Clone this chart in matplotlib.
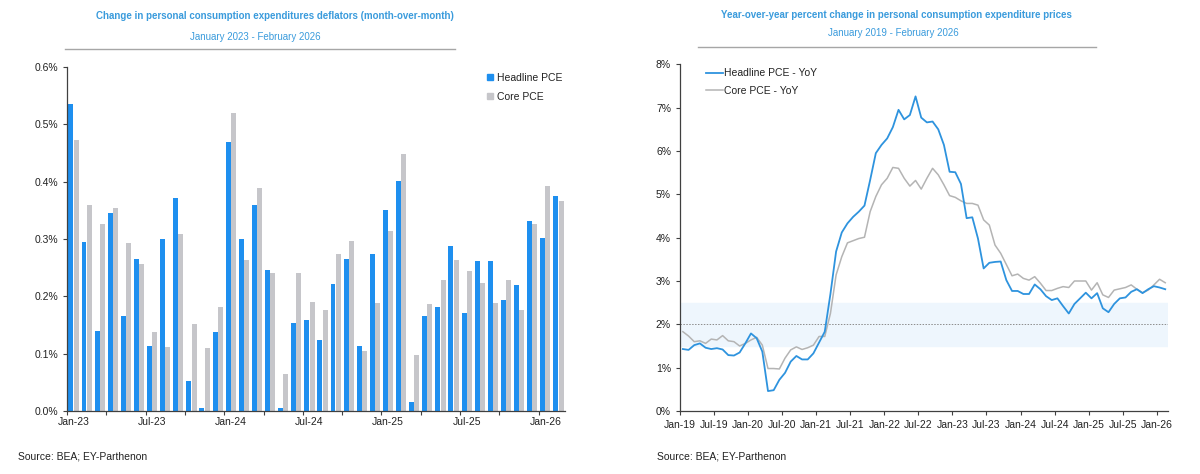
"""
pce_charts.py
-------------
Two-panel PCE chart: monthly change in deflators (bars) and
year-over-year PCE inflation (lines). Saves out.png
"""

import numpy as np
import matplotlib
matplotlib.use('Agg')
import matplotlib.pyplot as plt
from matplotlib.patches import Patch
from matplotlib.lines import Line2D
from matplotlib.ticker import FuncFormatter

plt.rcParams['font.family'] = ['Liberation Sans', 'DejaVu Sans']

# ---- month-over-month, Jan-23 .. Feb-26 (percent) ----
mom_labels = ['Jan-23', 'Jul-23', 'Jan-24', 'Jul-24', 'Jan-25', 'Jul-25', 'Jan-26']
headline_mom = [0.536, 0.294, 0.140, 0.346, 0.165, 0.265, 0.113, 0.300, 0.372, 0.053, 0.006, 0.137,
                0.469, 0.300, 0.359, 0.246, 0.005, 0.154, 0.159, 0.123, 0.222, 0.265, 0.114, 0.274,
                0.350, 0.402, 0.015, 0.165, 0.182, 0.288, 0.171, 0.262, 0.261, 0.193, 0.219, 0.331,
                0.302, 0.375]
core_mom = [0.473, 0.360, 0.327, 0.354, 0.293, 0.257, 0.138, 0.111, 0.308, 0.151, 0.110, 0.181,
            0.519, 0.264, 0.389, 0.241, 0.064, 0.240, 0.190, 0.176, 0.274, 0.296, 0.104, 0.189,
            0.314, 0.448, 0.097, 0.187, 0.229, 0.264, 0.245, 0.224, 0.189, 0.228, 0.177, 0.327,
            0.392, 0.367]

# ---- year-over-year, Jan-19 .. Feb-26 (percent) ----
yoy_labels = ['Jan-19', 'Jul-19', 'Jan-20', 'Jul-20', 'Jan-21', 'Jul-21', 'Jan-22', 'Jul-22',
              'Jan-23', 'Jul-23', 'Jan-24', 'Jul-24', 'Jan-25', 'Jul-25', 'Jan-26']
headline_yoy = [1.43, 1.41, 1.52, 1.56, 1.46, 1.43, 1.45, 1.42, 1.29, 1.28, 1.35, 1.56,
                1.79, 1.68, 1.37, 0.46, 0.48, 0.72, 0.88, 1.14, 1.27, 1.19, 1.19, 1.33,
                1.58, 1.83, 2.70, 3.68, 4.12, 4.33, 4.48, 4.60, 4.74, 5.33, 5.95, 6.14,
                6.29, 6.55, 6.95, 6.73, 6.83, 7.26, 6.77, 6.66, 6.68, 6.50, 6.14, 5.52,
                5.51, 5.24, 4.45, 4.47, 3.98, 3.29, 3.42, 3.44, 3.45, 3.02, 2.77, 2.77,
                2.70, 2.70, 2.92, 2.81, 2.65, 2.56, 2.60, 2.42, 2.25, 2.47, 2.60, 2.73,
                2.60, 2.72, 2.37, 2.28, 2.47, 2.60, 2.62, 2.75, 2.81, 2.72, 2.81, 2.88,
                2.85, 2.81]
core_yoy = [1.83, 1.73, 1.60, 1.62, 1.56, 1.66, 1.64, 1.74, 1.62, 1.60, 1.50, 1.56,
            1.64, 1.70, 1.52, 0.98, 0.98, 0.97, 1.22, 1.41, 1.48, 1.42, 1.46, 1.52,
            1.72, 1.72, 2.25, 3.14, 3.56, 3.88, 3.93, 3.98, 4.01, 4.60, 4.95, 5.22,
            5.37, 5.62, 5.60, 5.37, 5.19, 5.32, 5.12, 5.37, 5.60, 5.45, 5.22, 4.97,
            4.93, 4.85, 4.79, 4.79, 4.75, 4.41, 4.29, 3.83, 3.64, 3.38, 3.12, 3.16,
            3.06, 3.02, 3.10, 2.95, 2.78, 2.78, 2.83, 2.87, 2.85, 3.00, 3.00, 3.00,
            2.79, 2.96, 2.68, 2.62, 2.79, 2.82, 2.85, 2.91, 2.81, 2.73, 2.79, 2.91,
            3.04, 2.96]

BLUE_BAR = '#1E8FEF'
GREY_BAR = '#C6C6CA'
BLUE_LINE = '#2E93DE'
GREY_LINE = '#B4B4B4'
TITLE_BLUE = '#3A9BDC'
AXIS_COL = '#404040'
TEXT_COL = '#222222'


def style_axes(ax):
    for side in ['top', 'right']:
        ax.spines[side].set_visible(False)
    for side in ['left', 'bottom']:
        ax.spines[side].set_color(AXIS_COL)
        ax.spines[side].set_linewidth(0.9)
    ax.tick_params(axis='both', labelsize=7.5, colors=AXIS_COL, labelcolor=TEXT_COL,
                   direction='out', length=3, width=0.8)


def add_header(fig, x_title, x_sub, y_title, y_sub, title, sub, line_x, line_y):
    fig.text(x_title, y_title, title, ha='center', va='center', fontsize=7,
             fontweight='bold', color=TITLE_BLUE)
    fig.text(x_sub, y_sub, sub, ha='center', va='center', fontsize=7, color=TITLE_BLUE)
    fig.add_artist(Line2D(line_x, [line_y, line_y], transform=fig.transFigure,
                          color='#A6A6A6', linewidth=1.0))


def plot_mom(fig):
    ax = fig.add_axes([0.0558, 0.1329, 0.415, 0.7257])
    x = np.arange(len(headline_mom))
    ax.bar(x - 0.2, headline_mom, 0.38, color=BLUE_BAR, linewidth=0)
    ax.bar(x + 0.2, core_mom, 0.38, color=GREY_BAR, linewidth=0)

    ax.set_xlim(-0.5, len(x) - 0.5)
    ax.set_ylim(0, 0.6)
    ax.set_yticks(np.arange(0, 0.61, 0.1))
    ax.yaxis.set_major_formatter(FuncFormatter(lambda v, p: f'{v:.1f}%'))

    # labels on category centres, tick marks on boundaries every quarter
    ax.set_xticks(np.arange(0, len(x), 6))
    ax.set_xticklabels(mom_labels)
    ax.set_xticks(np.arange(-0.5, len(x), 3), minor=True)
    style_axes(ax)
    ax.tick_params(axis='x', which='major', length=0, pad=4)
    ax.tick_params(axis='x', which='minor', length=3, width=0.8, color=AXIS_COL)

    handles = [Patch(color=BLUE_BAR, label='Headline PCE'),
               Patch(color=GREY_BAR, label='Core PCE')]
    ax.legend(handles=handles, loc='upper left', bbox_to_anchor=(0.825, 1.01), frameon=False,
              fontsize=7.5, handlelength=0.55, handleheight=0.55, handletextpad=0.35,
              labelspacing=0.85, labelcolor=TEXT_COL)


def plot_yoy(fig):
    ax = fig.add_axes([0.5667, 0.1329, 0.4067, 0.7314])
    x = np.arange(len(headline_yoy))

    # Fed target band and 2% line
    ax.axhspan(1.5, 2.5, color='#EEF6FD', zorder=0)
    ax.axhline(2.0, color='#8C8C8C', linestyle=(0, (1.5, 1.5)), linewidth=0.7, zorder=1)

    ax.plot(x, core_yoy, color=GREY_LINE, linewidth=1.1, label='Core PCE - YoY', zorder=2)
    ax.plot(x, headline_yoy, color=BLUE_LINE, linewidth=1.3, label='Headline PCE - YoY', zorder=3)

    ax.set_xlim(-0.5, len(x) - 0.5)
    ax.set_ylim(0, 8)
    ax.set_yticks(np.arange(0, 9, 1))
    ax.yaxis.set_major_formatter(FuncFormatter(lambda v, p: f'{v:.0f}%'))
    ax.set_xticks(np.arange(-0.5, len(x) - 1, 6))
    ax.set_xticklabels(yoy_labels)
    style_axes(ax)

    h, l = ax.get_legend_handles_labels()
    ax.legend(h[::-1], l[::-1], loc='upper left', bbox_to_anchor=(0.035, 1.015), frameon=False,
              fontsize=7.5, handlelength=1.6, handletextpad=0.1, labelspacing=0.7,
              labelcolor=TEXT_COL)


if __name__ == '__main__':
    fig = plt.figure(figsize=(12, 4.74), dpi=100)

    plot_mom(fig)
    add_header(fig, 0.229, 0.2125, 0.966, 0.922,
               'Change in personal consumption expenditures deflators (month-over-month)',
               'January 2023 - February 2026', [0.054, 0.379], 0.897)
    fig.text(0.015, 0.036, 'Source: BEA; EY-Parthenon', fontsize=7.5, color=TEXT_COL, va='center')

    plot_yoy(fig)
    add_header(fig, 0.7467, 0.7446, 0.968, 0.930,
               'Year-over-year percent change in personal consumption expenditure prices',
               'January 2019 - February 2026', [0.5817, 0.9133], 0.9008)
    fig.text(0.5475, 0.036, 'Source: BEA; EY-Parthenon', fontsize=7.5, color=TEXT_COL, va='center')

    plt.savefig('out.png', dpi=100)
    plt.close()
